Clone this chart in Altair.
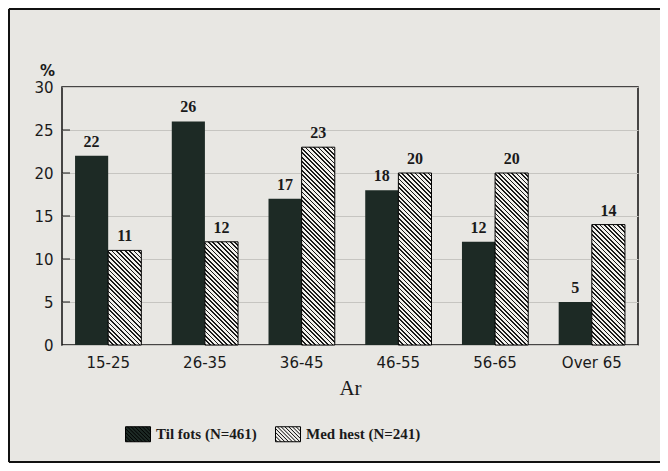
import math
import altair as alt
import pandas as pd

# ---- data ----
ages = ["15-25", "26-35", "36-45", "46-55", "56-65", "Over 65"]
til_fots = [22, 26, 17, 18, 12, 5]
med_hest = [11, 12, 23, 20, 20, 14]
series = ["Til fots (N=461)", "Med hest (N=241)"]
y_ticks = [0, 5, 10, 15, 20, 25, 30]
inner_ticks = [5, 10, 15, 20, 25]

rows = []
for a, v in zip(ages, til_fots):
    rows.append({"age": a, "serie": series[0], "pct": v})
for a, v in zip(ages, med_hest):
    rows.append({"age": a, "serie": series[1], "pct": v})
df = pd.DataFrame(rows)

# ---- layout / style ----
PLOT_W, PLOT_H = 576, 258
Y_MAX = 30
P_IN, P_OUT = 0.315, 0.135
STEP = PLOT_W / (len(ages) - P_IN + 2 * P_OUT)
BAR_W = STEP * (1 - P_IN) / 2
DARK = "#1d2a25"
LIGHT = "#f1f0ec"
LINE = "#1a1a1a"
BG = "#e8e7e3"
NUM_FONT = "DejaVu Sans"
SERIF = "Liberation Serif"


def hatch_gradient(value, period=3.1, frac=0.4):
    h = max(value * PLOT_H / Y_MAX, 1.0)
    w = BAR_W
    k = (w + h) / (w * w + h * h)
    n = max(1, round((w + h) / math.sqrt(2) / period))
    stops = []
    for i in range(n):
        a = round(i / n, 5)
        b = round((i + frac) / n, 5)
        c = round((i + 1) / n, 5)
        stops += [
            {"offset": a, "color": LINE},
            {"offset": b, "color": LINE},
            {"offset": b, "color": LIGHT},
            {"offset": c, "color": LIGHT},
        ]
    return {"gradient": "linear", "x1": 0, "y1": 1,
            "x2": round(k * w, 5), "y2": round(1 - k * h, 5), "stops": stops}


def hatch_symbol(hw=1.0, hh=0.6, dc=0.3):
    parts = [f"M{-hw},{-hh}L{hw},{-hh}L{hw},{hh}L{-hw},{hh}Z"]
    c = -(hw + hh) + dc / 2
    while c < hw + hh:
        y1 = max(-hh, -hw - c)
        y2 = min(hh, hw - c)
        if y2 > y1:
            parts.append(f"M{y1 + c:.3f},{y1:.3f}L{y2 + c:.3f},{y2:.3f}")
        c += dc
    return "".join(parts)


x_enc = alt.X(
    "age:N",
    scale=alt.Scale(domain=ages, paddingInner=P_IN, paddingOuter=P_OUT),
    axis=alt.Axis(labelAngle=0, tickSize=0, domain=False, grid=False,
                  labelPadding=10, labelFont=NUM_FONT, labelFontSize=15,
                  labelColor="#1a1a1a", title="Ar", titleFont=SERIF,
                  titleFontSize=21, titleFontWeight="normal",
                  titleColor="#1a1a1a", titlePadding=7),
)
xo_enc = alt.XOffset("serie:N", scale=alt.Scale(domain=series))
y_scale = alt.Scale(domain=[0, Y_MAX])
y_axis = alt.Axis(values=y_ticks, grid=True, gridColor="#c6c5c1", gridWidth=1,
                  tickSize=0, domain=False, labelPadding=9, labelFont=NUM_FONT,
                  labelFontSize=15, labelColor="#1a1a1a", title="%",
                  titleAngle=0, titleX=-15, titleY=-9, titleAlign="center",
                  titleBaseline="bottom", titleFont=NUM_FONT, titleFontSize=15,
                  titleFontWeight="bold", titleColor="#1a1a1a")
y_enc = alt.Y("pct:Q", scale=y_scale, axis=y_axis)

base = alt.Chart(df)

dark = base.transform_filter(alt.datum.serie == series[0]).mark_bar().encode(
    x=x_enc, xOffset=xo_enc, y=y_enc,
    color=alt.Color(
        "serie:N",
        scale=alt.Scale(domain=series, range=[DARK, LIGHT]),
        legend=alt.Legend(title=None, orient="none", legendX=63, legendY=334,
                          direction="horizontal", symbolType=hatch_symbol(),
                          symbolSize=625, symbolStrokeColor="black",
                          symbolStrokeWidth=1, labelFont=SERIF,
                          labelFontSize=15, labelFontWeight="bold",
                          labelColor="#1a1a1a", columnPadding=16,
                          labelOffset=5, padding=0),
    ),
)

hatched_layers = []
for a, v in zip(ages, med_hest):
    hatched_layers.append(
        base.transform_filter(
            (alt.datum.serie == series[1]) & (alt.datum.age == a)
        ).mark_bar(fill=hatch_gradient(v), stroke="black", strokeWidth=1)
        .encode(x=x_enc, xOffset=xo_enc, y=y_enc)
    )

labels = base.mark_text(baseline="bottom", dy=-6, font=SERIF, fontSize=16,
                        fontWeight="bold", color="#1a1a1a").encode(
    x=x_enc, xOffset=xo_enc, y=y_enc, text="pct:Q")

ticks = alt.Chart(pd.DataFrame({"pct": inner_ticks})).mark_rule(
    color="#1a1a1a", strokeWidth=1).encode(
    y=y_enc, x=alt.value(0), x2=alt.value(8))

frame_src = alt.Chart(pd.DataFrame({"a": [0]}))
frame_left = frame_src.mark_rule(color="#111111", strokeWidth=2).encode(
    x=alt.value(-53), y=alt.value(-78), y2=alt.value(375))
frame_top = frame_src.mark_rule(color="#111111", strokeWidth=2).encode(
    x=alt.value(-53), x2=alt.value(598), y=alt.value(-78))
frame_bottom = frame_src.mark_rule(color="#111111", strokeWidth=2).encode(
    x=alt.value(-53), x2=alt.value(598), y=alt.value(375))

chart = alt.layer(frame_left, frame_top, frame_bottom, ticks, dark,
                  *hatched_layers, labels).properties(
    width=PLOT_W, height=PLOT_H,
    padding={"left": 54, "top": 79, "right": 22, "bottom": 118},
    autosize=alt.AutoSizeParams(type="none"),
    background=BG,
).configure_view(stroke="#111111", strokeWidth=1.5)

chart.save("out.html", embed_options={"renderer": "svg", "actions": False})
